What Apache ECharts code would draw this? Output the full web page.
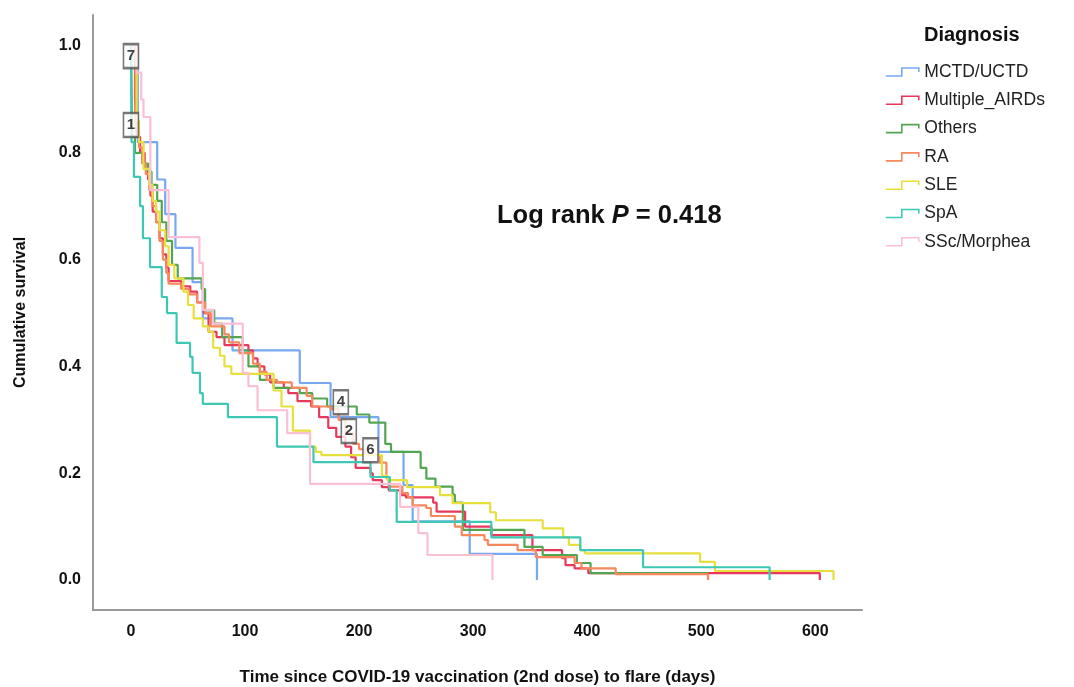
<!DOCTYPE html>
<html>
<head>
<meta charset="utf-8">
<script src="https://cdn.jsdelivr.net/npm/echarts@6/dist/echarts.min.js"></script>
<style>
  html, body { margin: 0; padding: 0; background: #fff; }
  #chart { width: 1074px; height: 687px; }
</style>
</head>
<body>
<div id="chart"></div>
<script>
// Kaplan-Meier steps: [days, cumulative survival after the step]
const groupNames = ["MCTD/UCTD", "Multiple_AIRDs", "Others", "RA", "SLE", "SpA", "SSc/Morphea"];
const groupColors = ["#78a9ee", "#e8395c", "#52a652", "#f7885c", "#e6df3c", "#3ec8b4", "#f9c0d5"];

const mctd = [[0,1],[6,0.82],[23,0.75],[30,0.685],[39,0.622],[54,0.558],[63,0.49],[89,0.43],
  [148,0.369],[175,0.305],[217,0.24],[239,0.178],[247,0.11],[297,0.049],[356,0]];

const multiple = [[0,1],[3.5,0.9],[5,0.83],[8,0.8],[12,0.77],[15,0.75],[17,0.72],[19,0.69],
  [22,0.67],[25,0.64],[28,0.61],[31,0.585],[33,0.56],[44,0.55],[52,0.54],[58,0.52],[64,0.5],
  [68,0.465],[75,0.455],[82,0.44],[103,0.43],[107,0.415],[111,0.4],[117,0.385],[122,0.37],
  [134,0.36],[138,0.35],[146,0.335],[158,0.325],[165,0.305],[173,0.285],[180,0.268],[188,0.25],
  [193,0.23],[197,0.21],[210,0.2],[212,0.187],[220,0.174],[226,0.168],[237,0.159],[241,0.155],
  [265,0.145],[268,0.128],[293,0.1],[316,0.084],[352,0.056],[378,0.041],[381,0.028],[389,0.022],
  [401,0.013],[604,0]];

const others = [[0,1],[1,0.83],[3.5,0.8],[10,0.78],[15,0.765],[18,0.74],[23,0.71],[27,0.67],
  [31,0.635],[36,0.59],[41,0.565],[62,0.545],[65,0.505],[73,0.48],[80,0.455],[98,0.43],
  [103,0.4],[113,0.375],[125,0.36],[148,0.35],[159,0.34],[172,0.325],[198,0.31],[209,0.295],
  [223,0.255],[228,0.24],[254,0.21],[259,0.19],[267,0.175],[282,0.16],[284,0.145],[291,0.094],
  [345,0.062],[361,0.047],[391,0.032],[403,0.013],[506,0.013]];

const ra = [[0,1],[4,0.85],[7,0.81],[10,0.78],[13,0.76],[16,0.73],[19,0.7],[22,0.67],
  [25,0.635],[28,0.6],[31,0.575],[33,0.555],[44,0.545],[51,0.535],[58,0.52],[65,0.5],
  [70,0.475],[82,0.46],[86,0.445],[95,0.425],[107,0.405],[113,0.39],[119,0.375],[128,0.37],
  [141,0.36],[154,0.345],[159,0.325],[175,0.32],[182,0.3],[188,0.275],[195,0.255],[200,0.245],
  [205,0.235],[218,0.22],[224,0.19],[226,0.175],[238,0.163],[243,0.155],[247,0.14],[259,0.135],
  [263,0.12],[284,0.1],[290,0.084],[310,0.075],[313,0.066],[339,0.056],[355,0.043],[389,0.032],
  [395,0.022],[425,0.011],[506,0]];

const sle = [[0,1],[5,0.86],[7,0.82],[11,0.77],[16,0.74],[19,0.71],[22,0.69],[25,0.655],
  [30,0.625],[33,0.59],[38,0.565],[46,0.54],[50,0.515],[55,0.49],[63,0.475],[68,0.465],
  [72,0.435],[78,0.42],[82,0.4],[88,0.386],[125,0.355],[132,0.325],[142,0.28],[157,0.25],
  [162,0.24],[167,0.234],[220,0.195],[225,0.187],[242,0.174],[271,0.159],[282,0.144],
  [315,0.127],[320,0.112],[361,0.097],[379,0.08],[384,0.066],[394,0.056],[398,0.05],
  [499,0.034],[512,0.017],[616,0]];

const spa = [[0,1],[0.5,0.82],[2.6,0.755],[8,0.7],[10.5,0.64],[16.7,0.586],[27,0.53],
  [31.6,0.5],[40,0.444],[51.8,0.418],[54,0.388],[60.5,0.35],[63,0.33],[85,0.305],[128,0.25],
  [160,0.221],[210,0.193],[227,0.168],[233,0.109],[316,0.08],[394,0.056],[449,0.024],[560,0]];

const ssc = [[0,1],[5,0.95],[9,0.9],[11,0.867],[17,0.73],[33,0.642],[60,0.594],[63,0.506],
  [72,0.48],[98,0.388],[103,0.363],[111,0.318],[137,0.275],[157,0.18],[236,0.137],[252,0.088],
  [260,0.047],[317,0]];

const groupData = [mctd, multiple, others, ra, sle, spa, ssc];

// boxed case labels on the plot
const boxLabels = ["7", "1", "4", "2", "6"];
const boxDays = [0, 0, 184, 191, 210];
const boxSurv = [0.981, 0.852, 0.333, 0.279, 0.243];

const xTicks = [0, 100, 200, 300, 400, 500, 600];
const yTicks = [0, 0.2, 0.4, 0.6, 0.8, 1.0];

const font = "'Liberation Sans', Arial, sans-serif";
const chart = echarts.init(document.getElementById("chart"));

const series = groupNames.map((name, i) => ({
  name: name,
  type: "line",
  step: "end",
  showSymbol: false,
  symbol: "none",
  data: groupData[i],
  lineStyle: { color: groupColors[i], width: 2.2 },
  itemStyle: { color: groupColors[i] },
  emphasis: { disabled: true },
}));

series.push({
  type: "scatter",
  data: boxLabels.map((t, i) => ({ value: [boxDays[i], boxSurv[i]], label: { formatter: t } })),
  symbol: "rect",
  symbolSize: [15, 24],
  itemStyle: { color: "#fff", borderColor: "#555", borderWidth: 2 },
  label: {
    show: true,
    position: "inside",
    color: "#111",
    fontSize: 15,
    fontWeight: "bold",
    fontFamily: font,
  },
  z: 10,
  silent: true,
});

const option = {
  animation: false,
  backgroundColor: "#fff",
  title: {
    text: "Diagnosis",
    left: 924,
    top: 25,
    padding: 0,
    textStyle: { fontSize: 20, fontWeight: "bold", color: "#111", fontFamily: font },
  },
  legend: {
    orient: "vertical",
    left: 885,
    top: 63,
    padding: 0,
    itemWidth: 34,
    itemHeight: 8,
    itemGap: 10.3,
    textStyle: { fontSize: 17.5, color: "#222", fontFamily: font },
    data: groupNames.map((n, i) => ({
      name: n,
      icon: "path://M0,8L16,8L16,0L33,0L33,4",
      itemStyle: { color: "transparent", borderColor: groupColors[i], borderWidth: 1.6 },
    })),
  },
  grid: { left: 93, right: 212, top: 15, bottom: 77, outerBoundsMode: "none" },
  xAxis: {
    type: "value",
    min: -33.3,
    max: 641,
    name: "Time since COVID-19 vaccination (2nd dose) to flare (days)",
    nameLocation: "middle",
    nameGap: 59,
    nameTextStyle: { fontSize: 17, fontWeight: "bold", color: "#111", fontFamily: font },
    axisLine: { show: true, onZero: false, lineStyle: { color: "#999", width: 2 } },
    axisTick: { show: false },
    splitLine: { show: false },
    axisLabel: {
      customValues: xTicks,
      margin: 14,
      fontSize: 16,
      fontWeight: "bold",
      color: "#111",
      fontFamily: font,
    },
  },
  yAxis: {
    type: "value",
    min: -0.056,
    max: 1.058,
    name: "Cumulative survival",
    nameLocation: "middle",
    nameGap: 64,
    nameTextStyle: { fontSize: 16, fontWeight: "bold", color: "#111", fontFamily: font },
    axisLine: { show: true, onZero: false, lineStyle: { color: "#999", width: 2 } },
    axisTick: { show: false },
    splitLine: { show: false },
    axisLabel: {
      customValues: yTicks,
      formatter: (v) => v.toFixed(1),
      margin: 12,
      fontSize: 16,
      fontWeight: "bold",
      color: "#111",
      fontFamily: font,
    },
  },
  graphic: [{
    type: "text",
    left: 497,
    top: 203,
    style: {
      text: "Log rank {i|P} = 0.418",
      font: "bold 25.5px " + font,
      fill: "#111",
      rich: { i: { fontStyle: "italic", fontWeight: "bold", fontSize: 25.5, fontFamily: font, fill: "#111" } },
    },
  }],
  series: series,
};

chart.setOption(option);
</script>
</body>
</html>
